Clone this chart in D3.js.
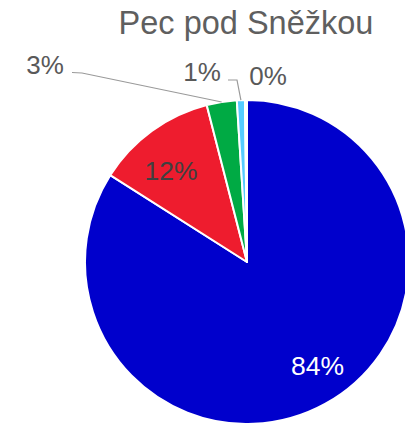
<!DOCTYPE html>
<html>
<head>
<meta charset="utf-8">
<script src="https://cdn.jsdelivr.net/npm/d3@7"></script>
<style>
  body { margin: 0; background: #fff; }
  text { font-family: "Liberation Sans", Arial, sans-serif; }
</style>
</head>
<body>
<svg id="chart" width="405" height="423"></svg>
<script>
const title = 'Pec pod Sněžkou'
const categories = ['A', 'B', 'C', 'D', 'E']
const shares = [84.0, 12.0, 3.0, 0.8, 0.2]
const labels = ['84%', '12%', '3%', '1%', '0%']
const colors = ['#0000cc', '#ee1c2e', '#00aa44', '#55ccff', '#ff9900']

const svg = d3.select('#chart')
const cx = 247, cy = 262, radius = 162

// Title
svg.append('text')
    .attr('x', 246)
    .attr('y', 34)
    .attr('text-anchor', 'middle')
    .attr('font-size', 32.5)
    .attr('fill', '#5f5f5f')
    .text(title)

const data = categories.map((c, i) => ({ cat: c, value: shares[i], label: labels[i], color: colors[i] }))

const pie = d3.pie().value(d => d.value).sort(null)
const arcs = pie(data)
const arc = d3.arc().innerRadius(0).outerRadius(radius)

const g = svg.append('g').attr('transform', `translate(${cx},${cy})`)

g.selectAll('path')
    .data(arcs)
    .enter()
    .append('path')
    .attr('d', arc)
    .attr('fill', d => d.data.color)
    .attr('stroke', '#fff')
    .attr('stroke-width', 2)
    .attr('stroke-linejoin', 'round')

// Inside labels for the two big slices
const insideArc = d3.arc().innerRadius(radius * 0.55).outerRadius(radius * 0.9)
const insideStyle = { '84%': '#ffffff', '12%': '#404040' }
const insideShift = { '84%': [14, 1], '12%': [-7, 4] }

g.selectAll('text.inside')
    .data(arcs.filter(d => d.data.value >= 10))
    .enter()
    .append('text')
    .attr('class', 'inside')
    .attr('x', d => insideArc.centroid(d)[0] + insideShift[d.data.label][0])
    .attr('y', d => insideArc.centroid(d)[1] + insideShift[d.data.label][1])
    .attr('text-anchor', 'middle')
    .attr('dominant-baseline', 'central')
    .attr('font-size', 26.5)
    .attr('fill', d => insideStyle[d.data.label])
    .text(d => d.data.label)

// Outside labels for the small slices, with leader lines
const pointAt = (angle, r) => [Math.sin(angle) * r, -Math.cos(angle) * r]
const outside = {
    '3%': { label: [-202, -188], elbow: [-165, -189], start: [-175, -189.5] },
    '1%': { label: [-45, -181], elbow: [-10, -182], start: [-19, -182] },
    '0%': { label: [21, -177] }
}

arcs.filter(d => d.data.value < 10).forEach(d => {
    const o = outside[d.data.label]
    if (o.elbow) {
        const mid = (d.startAngle + d.endAngle) / 2
        const end = pointAt(mid, radius)
        g.append('polyline')
            .attr('points', [o.start, o.elbow, end].map(p => p.join(',')).join(' '))
            .attr('fill', 'none')
            .attr('stroke', '#9a9a9a')
            .attr('stroke-width', 1.2)
    }
    g.append('text')
        .attr('x', o.label[0])
        .attr('y', o.label[1])
        .attr('text-anchor', 'middle')
        .attr('font-size', 26)
        .attr('fill', '#595959')
        .text(d.data.label)
})
</script>
</body>
</html>
